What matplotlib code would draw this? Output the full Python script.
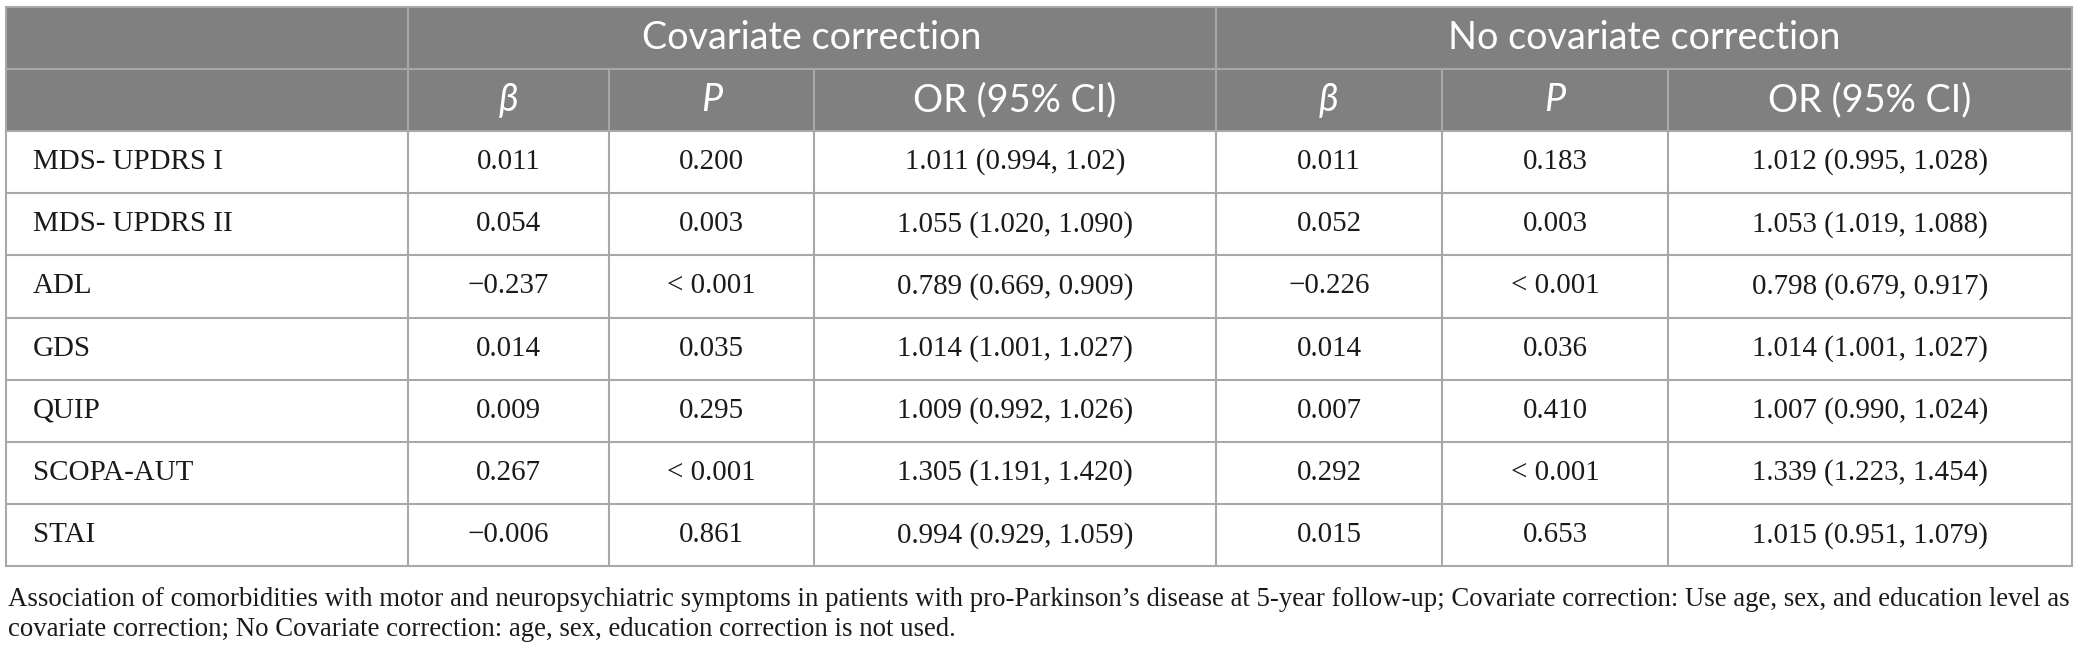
import matplotlib
matplotlib.use("Agg")
import matplotlib.pyplot as plt
from matplotlib.patches import Rectangle

# ---------------- data ----------------
row_labels = ["MDS- UPDRS I", "MDS- UPDRS II", "ADL", "GDS", "QUIP", "SCOPA-AUT", "STAI"]
group_labels = ["Covariate correction", "No covariate correction"]
sub_labels = ["β", "P", "OR (95% CI)"]

cov_beta = ["0.011", "0.054", "−0.237", "0.014", "0.009", "0.267", "−0.006"]
cov_p = ["0.200", "0.003", "< 0.001", "0.035", "0.295", "< 0.001", "0.861"]
cov_or = ["1.011 (0.994, 1.02)", "1.055 (1.020, 1.090)", "0.789 (0.669, 0.909)",
          "1.014 (1.001, 1.027)", "1.009 (0.992, 1.026)", "1.305 (1.191, 1.420)",
          "0.994 (0.929, 1.059)"]
nocov_beta = ["0.011", "0.052", "−0.226", "0.014", "0.007", "0.292", "0.015"]
nocov_p = ["0.183", "0.003", "< 0.001", "0.036", "0.410", "< 0.001", "0.653"]
nocov_or = ["1.012 (0.995, 1.028)", "1.053 (1.019, 1.088)", "0.798 (0.679, 0.917)",
            "1.014 (1.001, 1.027)", "1.007 (0.990, 1.024)", "1.339 (1.223, 1.454)",
            "1.015 (0.951, 1.079)"]

caption_lines = [
    "Association of comorbidities with motor and neuropsychiatric symptoms in patients with pro-Parkinson’s disease at 5-year follow-up; Covariate correction: Use age, sex, and education level as",
    "covariate correction; No Covariate correction: age, sex, education correction is not used.",
]

# ---------------- layout ----------------
W, H = 2077, 658
col_edges = [6, 408, 609, 814, 1216, 1442, 1668, 2072]
top = 6.5
row_h = 62.2
n_rows = 2 + len(row_labels)
bottom = top + n_rows * row_h

header_fill = "#808080"
line_col = "#a8a8a8"
lw = 1.5

serif = ["Liberation Serif", "DejaVu Serif"]
sans = ["Lato", "Open Sans", "DejaVu Sans"]

fig = plt.figure(figsize=(W / 100, H / 100), dpi=100)
ax = fig.add_axes([0, 0, 1, 1])
ax.set_xlim(0, W)
ax.set_ylim(H, 0)
ax.axis("off")
renderer = fig.canvas.get_renderer()


def fit_size(text, target_px, family, style="normal"):
    ref = 20
    t = ax.text(0, 0, text, fontsize=ref, family=family, style=style)
    w = t.get_window_extent(renderer).width
    t.remove()
    return ref * target_px / w


body_fs = fit_size("1.055 (1.020, 1.090)", 236, serif)
head_fs = fit_size("OR (95% CI)", 203, sans)
cap_fs = fit_size(caption_lines[0], 2060, serif)

# header background
ax.add_patch(Rectangle((col_edges[0], top), col_edges[-1] - col_edges[0], 2 * row_h,
                       facecolor=header_fill, edgecolor="none", zorder=1))


def yc(r):
    return top + (r + 0.5) * row_h


# horizontal grid lines
for r in range(n_rows + 1):
    y = top + r * row_h
    ax.plot([col_edges[0], col_edges[-1]], [y, y], color=line_col, lw=lw, zorder=3,
            solid_capstyle="projecting")
# vertical: outer + group separators across all rows
for x in [col_edges[0], col_edges[1], col_edges[4], col_edges[-1]]:
    ax.plot([x, x], [top, bottom], color=line_col, lw=lw, zorder=3, solid_capstyle="projecting")
# inner vertical lines from second header row down
for x in [col_edges[2], col_edges[3], col_edges[5], col_edges[6]]:
    ax.plot([x, x], [top + row_h, bottom], color=line_col, lw=lw, zorder=3)

# group headers
for g, lab in enumerate(group_labels):
    x0, x1 = col_edges[1 + 3 * g], col_edges[4 + 3 * g]
    ax.text((x0 + x1) / 2, yc(0), lab, ha="center", va="center", color="white",
            fontsize=head_fs, family=sans, zorder=4)

# sub headers
for g in range(2):
    for k, lab in enumerate(sub_labels):
        c = 1 + 3 * g + k
        ax.text((col_edges[c] + col_edges[c + 1]) / 2, yc(1), lab, ha="center", va="center",
                color="white", fontsize=head_fs, family=sans,
                style="italic" if k < 2 else "normal", zorder=4)

# body
columns = [cov_beta, cov_p, cov_or, nocov_beta, nocov_p, nocov_or]
for i, lab in enumerate(row_labels):
    y = yc(2 + i)
    ax.text(col_edges[0] + 27, y, lab, ha="left", va="center", color="#1a1a1a",
            fontsize=body_fs, family=serif, zorder=4)
    for c, vals in enumerate(columns):
        xc = (col_edges[c + 1] + col_edges[c + 2]) / 2
        ax.text(xc, y, vals[i], ha="center", va="center", color="#1a1a1a",
                fontsize=body_fs, family=serif, zorder=4)

# caption
cap_y = [606, 636]
for line, y in zip(caption_lines, cap_y):
    ax.text(8, y, line, ha="left", va="baseline", color="#1a1a1a",
            fontsize=cap_fs, family=serif)

fig.savefig("out.png", dpi=100)
